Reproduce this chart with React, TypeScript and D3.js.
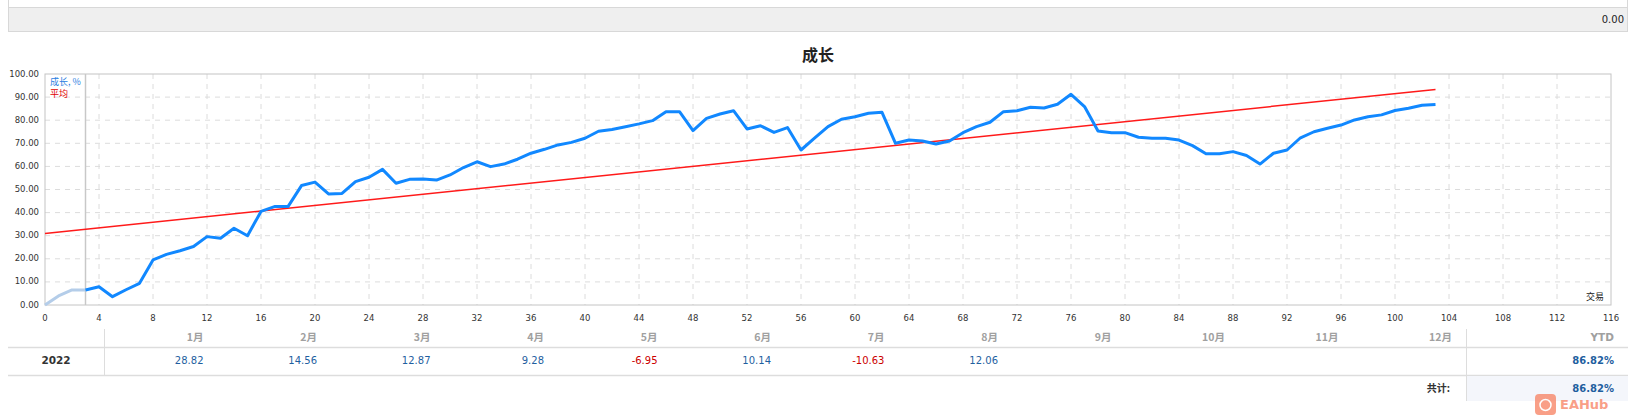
import * as d3 from "d3";

// growth % per trade (index 0..103)
const growth = [
  0, 3.9, 6.5, 6.5, 7.9, 3.6, 6.6, 9.4, 19.5, 21.9,
  23.5, 25.3, 29.6, 28.9, 33.2, 30.0, 40.5, 42.6, 42.6, 51.7,
  53.2, 48.1, 48.3, 53.4, 55.3, 58.7, 52.7, 54.4, 54.5, 54.1,
  56.3, 59.5, 62.0, 59.9, 61.0, 63.1, 65.7, 67.4, 69.3, 70.4,
  72.2, 75.2, 76.0, 77.2, 78.4, 79.8, 83.7, 83.7, 75.5, 80.8,
  82.7, 84.1, 76.2, 77.6, 74.7, 76.8, 67.1, 72.2, 77.2, 80.4,
  81.5, 83.0, 83.4, 70.0, 71.4, 71.0, 69.7, 71.0, 74.6, 77.2,
  79.1, 83.7, 84.1, 85.6, 85.3, 86.9, 91.2, 85.9, 75.3, 74.6,
  74.6, 72.6, 72.2, 72.2, 71.4, 69.0, 65.5, 65.5, 66.4, 64.7,
  61.0, 65.7, 67.1, 72.4, 75.0, 76.5, 77.9, 80.1, 81.5, 82.3,
  84.2, 85.2, 86.5, 86.82,
];
const fadedUntil = 3;

// trend ("平均") line end points
const average = [
  { x: 0, y: 31.0 },
  { x: 103, y: 93.3 },
];

const xTicks = d3.range(0, 117, 4);
const yTicks = d3.range(0, 101, 10);

const months = ["1月", "2月", "3月", "4月", "5月", "6月", "7月", "8月", "9月", "10月", "11月", "12月"];
const year = "2022";
const monthly: (number | null)[] = [28.82, 14.56, 12.87, 9.28, -6.95, 10.14, -10.63, 12.06, null, null, null, null];
const ytd = "86.82%";
const total = "86.82%";

const W = 1633;
const H = 419;
const plot = { left: 45, right: 1611, top: 74, bottom: 305 };

const x = d3.scaleLinear().domain([0, 116]).range([plot.left, plot.right]);
const y = d3.scaleLinear().domain([0, 100]).range([plot.bottom, plot.top]);

const tickFont = "Tahoma, 'DejaVu Sans', sans-serif";
const cjkFont = "'Noto Sans CJK SC', 'DejaVu Sans', sans-serif";

export default function App() {
  const pts = growth.map((v, i) => [i, v] as [number, number]);
  const line = d3.line<[number, number]>().x(d => x(d[0])).y(d => y(d[1]));
  const faded = line(pts.slice(0, fadedUntil + 1)) ?? "";
  const solid = line(pts.slice(fadedUntil)) ?? "";

  // table columns
  const tLeft = 8, tRight = 1628, c1 = 104, cYtd = 1466;
  const colW = (cYtd - c1) / months.length;
  const colX = d3.scaleBand<number>().domain(d3.range(months.length)).range([c1, cYtd]);
  const hdrY = 338, row1Y = 361, row2Y = 389;

  return (
    <div style={{ position: "absolute", left: 0, top: 0 }}>
      <svg width={W} height={H} style={{ display: "block", background: "#fff" }}>
        {/* top panel */}
        <line x1={tLeft + 0.5} x2={tLeft + 0.5} y1={0} y2={32} stroke="#d8d8d8" />
        <line x1={tRight - 0.5} x2={tRight - 0.5} y1={0} y2={32} stroke="#d8d8d8" />
        <rect x={tLeft + 0.5} y={7.5} width={tRight - tLeft - 1} height={24} fill="#efefef" stroke="#d8d8d8" />
        <text x={1624} y={20} textAnchor="end" dominantBaseline="middle" fontSize={10} fontFamily={tickFont} fill="#222">0.00</text>

        {/* title */}
        <text x={818} y={57} textAnchor="middle" dominantBaseline="middle" fontSize={16} fontWeight={700} fontFamily={cjkFont} fill="#222">成长</text>

        {/* grid */}
        {yTicks.filter(t => t > 0 && t < 100).map(t => (
          <line key={"gy" + t} x1={plot.left} x2={plot.right} y1={y(t)} y2={y(t)} stroke="#dcdcdc" strokeDasharray="5,5" />
        ))}
        {xTicks.filter(t => t > 0 && t < 116).map(t => (
          <line key={"gx" + t} x1={x(t)} x2={x(t)} y1={plot.top} y2={plot.bottom} stroke="#dcdcdc" strokeDasharray="5,5" />
        ))}

        {/* plot frame */}
        <rect x={plot.left} y={plot.top} width={plot.right - plot.left} height={plot.bottom - plot.top} fill="none" stroke="#c4c4c4" />
        <line x1={x(fadedUntil)} x2={x(fadedUntil)} y1={plot.top} y2={plot.bottom} stroke="#c8c8c8" strokeWidth={1.5} />

        {/* y axis labels */}
        {yTicks.map(t => (
          <text key={"ty" + t} x={plot.left - 6} y={y(t)} textAnchor="end" dominantBaseline="middle" fontSize={8.5} fontFamily={tickFont} fill="#333">
            {t.toFixed(2)}
          </text>
        ))}
        {/* x axis labels */}
        {xTicks.map(t => (
          <text key={"tx" + t} x={x(t)} y={318} textAnchor="middle" dominantBaseline="middle" fontSize={8.5} fontFamily={tickFont} fill="#333">
            {t}
          </text>
        ))}

        {/* series */}
        <path d={line(average.map(d => [d.x, d.y] as [number, number])) ?? ""} fill="none" stroke="#ff1a1a" strokeWidth={1.5} />
        <path d={faded} fill="none" stroke="#b4cde9" strokeWidth={3} strokeLinejoin="round" />
        <path d={solid} fill="none" stroke="#1188ff" strokeWidth={3} strokeLinejoin="round" />

        {/* in-plot legend */}
        <text x={50} y={83} fontSize={9} fontFamily={cjkFont} fill="#2a7de1" dominantBaseline="middle">成长, %</text>
        <text x={50} y={95} fontSize={9} fontFamily={cjkFont} fill="#e00000" dominantBaseline="middle">平均</text>
        <text x={plot.right - 7} y={298} textAnchor="end" fontSize={9} fontFamily={cjkFont} fill="#222" dominantBaseline="middle">交易</text>

        {/* table */}
        <line x1={c1 + 0.5} x2={c1 + 0.5} y1={329} y2={375} stroke="#dddddd" />
        <line x1={cYtd + 0.5} x2={cYtd + 0.5} y1={329} y2={401} stroke="#dddddd" />
        <line x1={tLeft} x2={tRight} y1={347.5} y2={347.5} stroke="#dddddd" strokeWidth={1.5} />
        <line x1={tLeft} x2={tRight} y1={375.5} y2={375.5} stroke="#dddddd" strokeWidth={1.5} />
        <rect x={cYtd + 1} y={376} width={tRight - cYtd - 1} height={25} fill="#f4f6fb" />

        {months.map((m, i) => (
          <text key={m} x={(colX(i) ?? 0) + colW - 14} y={hdrY} textAnchor="end" dominantBaseline="middle" fontSize={10.5} fontWeight={700} fontFamily={cjkFont} fill="#a0a0a0">{m}</text>
        ))}
        <text x={tRight - 14} y={hdrY} textAnchor="end" dominantBaseline="middle" fontSize={10.5} fontWeight={700} fontFamily={tickFont} fill="#a0a0a0">YTD</text>

        <text x={(tLeft + c1) / 2} y={row1Y} textAnchor="middle" dominantBaseline="middle" fontSize={10.5} fontWeight={700} fontFamily={tickFont} fill="#333">{year}</text>
        {monthly.map((v, i) => v === null ? null : (
          <text key={"mv" + i} x={(colX(i) ?? 0) + colW - 14} y={row1Y} textAnchor="end" dominantBaseline="middle" fontSize={10} fontFamily={tickFont} fill={v < 0 ? "#cc0000" : "#1f5f9f"}>
            {v.toFixed(2)}
          </text>
        ))}
        <text x={tRight - 14} y={row1Y} textAnchor="end" dominantBaseline="middle" fontSize={10} fontWeight={700} fontFamily={tickFont} fill="#1f5f9f">{ytd}</text>

        <text x={cYtd - 16} y={row2Y} textAnchor="end" dominantBaseline="middle" fontSize={10} fontWeight={700} fontFamily={cjkFont} fill="#333">共计:</text>
        <text x={tRight - 14} y={row2Y} textAnchor="end" dominantBaseline="middle" fontSize={10} fontWeight={700} fontFamily={tickFont} fill="#1f5f9f">{total}</text>

        {/* watermark */}
        <g opacity={0.75}>
          <rect x={1535} y={394} width={21} height={21} rx={4} fill="#f7805f" />
          <circle cx={1545.5} cy={405} r={5.5} fill="none" stroke="#fff" strokeWidth={1.5} />
          <text x={1560} y={405} dominantBaseline="middle" fontSize={13} fontWeight={700} fontFamily="'DejaVu Sans', sans-serif" fill="#f7805f">EAHub</text>
        </g>
      </svg>
    </div>
  );
}
